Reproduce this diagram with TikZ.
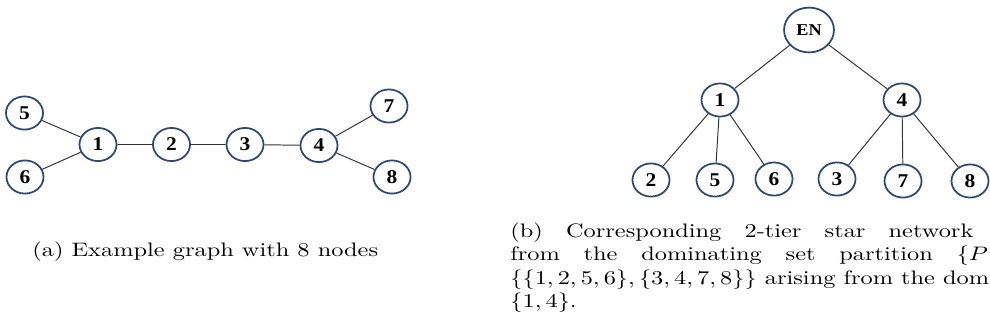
\documentclass[tikz,border=0pt]{standalone}
\usepackage{amsmath}
\usepackage{fontspec}
\usepackage{graphicx}
\usepackage{tikz}
\usetikzlibrary{shapes.geometric}
\newfontfamily\labelfont[FakeStretch=1.1]{Liberation Serif}
\definecolor{ringblue}{HTML}{2E4874}
\newcommand{\widen}[1]{\scalebox{1.25}[1]{#1}}
\tikzset{
  vtx/.style={ellipse, draw=ringblue, line width=0.9pt, minimum width=19pt, minimum height=17pt,
    inner sep=0pt, font=\labelfont\bfseries\fontsize{10}{12}\selectfont},
  hub/.style={vtx, minimum width=25.6pt, minimum height=23pt, font=\labelfont\bfseries\fontsize{8.5}{10}\selectfont},
  link/.style={black!80, line width=0.5pt},
  captext/.style={anchor=base west, inner sep=0pt}
}

\begin{document}
\begin{tikzpicture}[x=0.513pt, y=-0.513pt]
\useasboundingbox (0,0) rectangle (990,331);
\clip (0,0) rectangle (990,331);
% example graph
\node[vtx] (l5) at (24.5,113) {5};
\node[vtx] (l6) at (25,177) {6};
\node[vtx] (l1) at (98,144.5) {1};
\node[vtx] (l2) at (171.5,144.5) {2};
\node[vtx] (l3) at (245,144.5) {3};
\node[vtx] (l4) at (319,145.5) {4};
\node[vtx] (l7) at (389,106) {7};
\node[vtx] (l8) at (392,177) {8};
\draw[link] (l5) -- (l1) (l6) -- (l1) (l1) -- (l2) (l2) -- (l3) (l3) -- (l4) (l4) -- (l7) (l4) -- (l8);
% star network
\node[hub] (en) at (809,30) {EN};
\node[vtx] (s1) at (720,100) {1};
\node[vtx] (s4) at (902,100) {4};
\node[vtx] (s2) at (651,180) {2};
\node[vtx] (s5) at (715,180) {5};
\node[vtx] (s6) at (774,179) {6};
\node[vtx] (s3) at (837,179) {3};
\node[vtx] (s7) at (903,181) {7};
\node[vtx] (s8) at (970,181) {8};
\foreach \a/\b in {en/s1,en/s4,s1/s2,s1/s5,s1/s6,s4/s3,s4/s7,s4/s8}
  \draw[link] (\a) -- (\b);
% captions
\node[captext] (capa) at (32,256) {\widen{(a) Example graph with 8 nodes}};
\node[captext] (capb1) at (510,237) {\widen{\makebox[190pt][s]{(b) Corresponding 2-tier star network}}};
\node[captext] (capb2) at (510,260.5) {\widen{\makebox[196pt][s]{from the dominating set partition $\{P$}}};
\node[captext] (capb3) at (510,284) {\widen{$\{\{1,2,5,6\},\{3,4,7,8\}\}$ arising from the dom}};
\node[captext] (capb4) at (510,307.5) {\widen{$\{1,4\}$.}};
\end{tikzpicture}
\end{document}
